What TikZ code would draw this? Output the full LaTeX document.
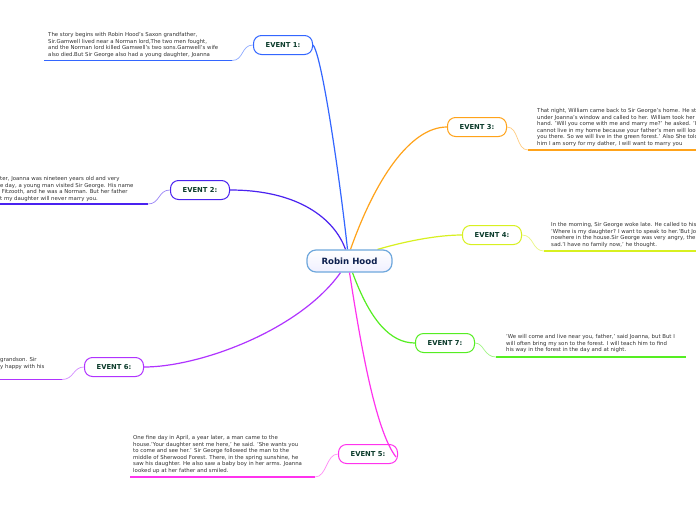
\documentclass[tikz,border=0pt]{standalone}
\usepackage{fontspec}
\setmainfont{DejaVu Sans}
\usetikzlibrary{backgrounds}
\definecolor{cA}{HTML}{3366FF}
\definecolor{cB}{HTML}{4A22F0}
\definecolor{cC}{HTML}{FFA31A}
\definecolor{cD}{HTML}{D8F020}
\definecolor{cE}{HTML}{FF33EE}
\definecolor{cF}{HTML}{B033FF}
\definecolor{cG}{HTML}{55EE22}
\definecolor{evtxt}{HTML}{0B3B2B}
\definecolor{roottxt}{HTML}{0C1F4E}
\definecolor{rootline}{HTML}{6FA8DC}
\definecolor{txtgray}{HTML}{333333}
\begin{document}
\begin{tikzpicture}[x=1pt,y=-1pt,
  evt/.style={draw=#1, line width=1pt, rounded corners=8pt, minimum width=59pt, minimum height=19pt, fill=white, font=\fontsize{6.8}{8}\selectfont\bfseries, text=evtxt, inner sep=0pt},
  rootbox/.style={draw=rootline, line width=1.2pt, rounded corners=9pt, minimum width=85pt, minimum height=22pt, inner sep=0pt, top color=white, bottom color=blue!6, font=\fontsize{8.6}{10}\selectfont\bfseries, text=roottxt},
  txt/.style={anchor=north west, align=left, font=\fontsize{5.4}{6.5}\selectfont, text=txtgray, inner sep=0pt},
  branch/.style={draw=#1, line width=1.2pt},
  ul/.style={draw=#1, line width=1.6pt},
  thinc/.style={draw=#1!55, line width=0.7pt}]
\clip (0,0) rectangle (696,520);

% root
\node[rootbox] (root) at (349.5,261) {Robin Hood};

% events
\node[evt=cA] (e1) at (283,45) {EVENT 1:};
\node[evt=cB] (e2) at (200,190) {EVENT 2:};
\node[evt=cC] (e3) at (477,127) {EVENT 3:};
\node[evt=cD] (e4) at (492,235) {EVENT 4:};
\node[evt=cE] (e5) at (368,454) {EVENT 5:};
\node[evt=cF] (e6) at (114,367) {EVENT 6:};
\node[evt=cG] (e7) at (445,343) {EVENT 7:};

% branches
\begin{scope}[on background layer]
\fill[white] (0,0) rectangle (696,520);
\draw[branch=cA] ([xshift=-2pt]root.north) .. controls (340,180) and (322,55) .. (e1.east);
\draw[branch=cB] ([xshift=-4pt]root.north) .. controls (335,220) and (300,190) .. (e2.east);
\draw[branch=cC] ([xshift=1pt]root.north) .. controls (375,180) and (410,127) .. (e3.west);
\draw[branch=cD] ([xshift=28pt]root.north) .. controls (410,240) and (440,235) .. (e4.west);
\draw[branch=cF] ([xshift=-9pt]root.south) .. controls (300,330) and (200,367) .. (e6.east);
\draw[branch=cG] ([xshift=3pt]root.south) .. controls (370,320) and (390,343) .. (e7.west);
\end{scope}
\draw[branch=cE] ([xshift=0pt]root.south) .. controls (360,340) and (375,430) .. ([xshift=-2pt,yshift=-3pt]e5.east);

% texts
\node[txt] (t1) at (48,32.5) {The story begins with Robin Hood's Saxon grandfather,\\Sir.Gamwell lived near a Norman lord,The two men fought,\\and the Norman lord killed Gamwell's two sons.Gamwell's wife\\also died.But Sir George also had a young daughter, Joanna};
\node[txt] (t2) at (0,176.5) {\llap{Ten years la}ter, Joanna was nineteen years old and very\\\llap{beautiful. On}e day, a young man visited Sir George. His name\\\llap{was William} Fitzooth, and he was a Norman. But her father\\\llap{said, 'You are a Norman, bu}t my daughter will never marry you.};
\node[txt] (t3) at (537,108.5) {That night, William came back to Sir George's home. He stood\\under Joanna's window and called to her. William took her\\hand. 'Will you come with me and marry me?' he asked. 'I\\cannot live in my home because your father's men will look for\\you there. So we will live in the green forest.' Also She told\\him I am sorry for my dather, I will want to marry you};
\node[txt] (t4) at (551,222.5) {In the morning, Sir George woke late. He called to his men.\\'Where is my daughter? I want to speak to her.'But Joanna was\\nowhere in the house.Sir George was very angry, then he was\\sad.'I have no family now,' he thought.};
\node[txt] (t5) at (133,435.5) {One fine day in April, a year later, a man came to the\\house.'Your daughter sent me here,' he said. 'She wants you\\to come and see her.' Sir George followed the man to the\\middle of Sherwood Forest. There, in the spring sunshine, he\\saw his daughter. He also saw a baby boy in her arms. Joanna\\looked up at her father and smiled.};
\node[txt] (t6) at (0,357.5) {\llap{Sir George loved his }grandson. Sir\\\llap{George was ver}y happy with his};
\node[txt] (t7) at (506,334.5) {'We will come and live near you, father,' said Joanna, but But I\\will often bring my son to the forest. I will teach him to find\\his way in the forest in the day and at night.};

% underlines
\coordinate (u1a) at (44,60.5);  \coordinate (u1b) at (232,60.5);
\coordinate (u2a) at (0,204);    \coordinate (u2b) at (148,204);
\coordinate (u3a) at (528,150);  \coordinate (u3b) at (696,150);
\coordinate (u4a) at (544,251);  \coordinate (u4b) at (696,251);
\coordinate (u5a) at (130,477);  \coordinate (u5b) at (315,477);
\coordinate (u6a) at (0,379.5);  \coordinate (u6b) at (62,379.5);
\coordinate (u7a) at (496,357);  \coordinate (u7b) at (686,357);
\draw[ul=cA] (u1a) -- (u1b);
\draw[ul=cB] (u2a) -- (u2b);
\draw[ul=cC] (u3a) -- (u3b);
\draw[ul=cD] (u4a) -- (u4b);
\draw[ul=cE] (u5a) -- (u5b);
\draw[ul=cF] (u6a) -- (u6b);
\draw[ul=cG] (u7a) -- (u7b);
\draw[thinc=cA] (u1b) .. controls (244,60.5) and (241,45) .. (e1.west);
\draw[thinc=cB] (u2b) .. controls (160,204) and (158,190) .. (e2.west);
\draw[thinc=cC] (e3.east) .. controls (519,127) and (516,150) .. (u3a);
\draw[thinc=cD] (e4.east) .. controls (534,235) and (532,251) .. (u4a);
\draw[thinc=cE] (u5b) .. controls (327,477) and (326,454) .. (e5.west);
\draw[thinc=cF] (u6b) .. controls (74,379.5) and (73,367) .. (e6.west);
\draw[thinc=cG] (e7.east) .. controls (484,343) and (484,357) .. (u7a);
\end{tikzpicture}
\end{document}
